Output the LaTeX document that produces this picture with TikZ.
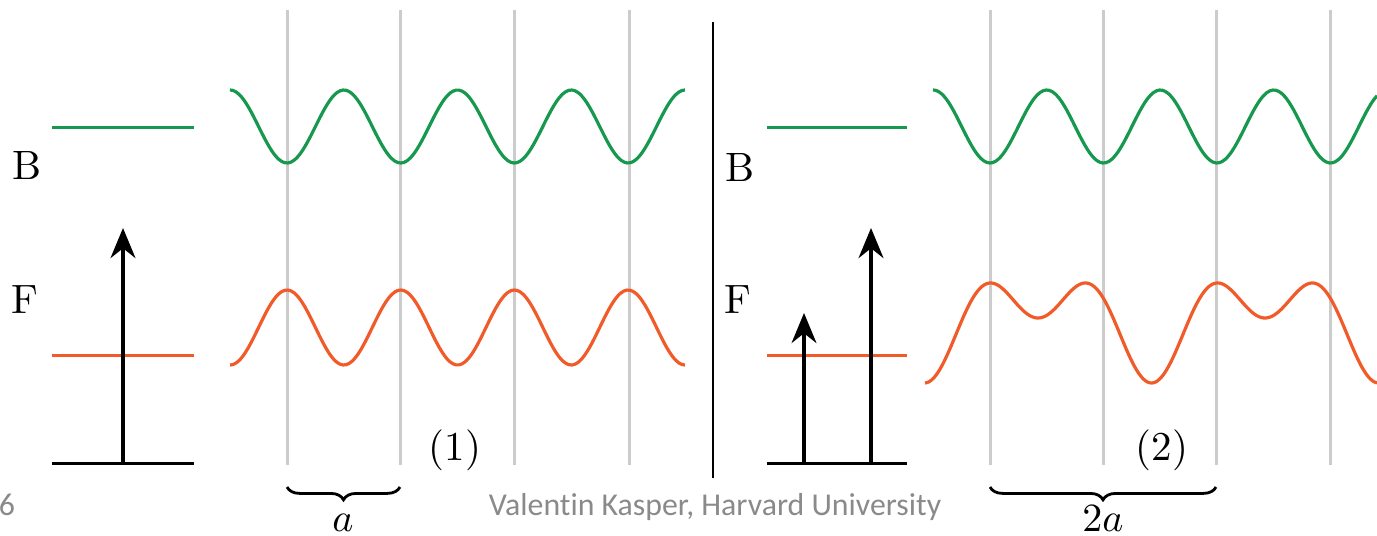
\documentclass[tikz,border=0pt]{standalone}
\usepackage{fontspec}
\newfontfamily\footfont[Ligatures=NoCommon]{Carlito}
\usepackage{tikz}
\usetikzlibrary{arrows.meta,decorations.pathreplacing}
\definecolor{lvgreen}{HTML}{16994F}
\definecolor{lvorange}{HTML}{F15A29}
\definecolor{lvgrid}{HTML}{CCCCCC}
\definecolor{lvfoot}{HTML}{8A8A8A}

\begin{document}
\begin{tikzpicture}[x=0.25pt,y=-0.25pt,
  lvl/.style={line width=0.75pt},
  wave/.style={line width=0.8pt,smooth},
  gridline/.style={lvgrid,line width=0.75pt},
  arr/.style={-{Stealth[length=7.5pt,width=6.2pt]},line width=1pt},
  lab/.style={font=\fontsize{10.25}{12}\selectfont,inner sep=0pt},
  brc/.style={decorate,decoration={brace,mirror,amplitude=3.2pt},line width=0.7pt},
  foot/.style={font=\footfont\fontsize{7.95}{10}\selectfont,text=lvfoot,inner sep=0pt}]
  \useasboundingbox (0,0) rectangle (1377,535);

  % lattice sites
  \foreach \gx in {287,400,514,629,990,1103,1216,1330}
    \draw[gridline] (\gx,10) -- (\gx,465);
  \draw[line width=0.5pt] (713,22) -- (713,478);

  % (1) single frequency
  \draw[lvl,lvgreen] (52,127) -- (194,127);
  \draw[lvl,lvorange] (52,355) -- (194,355);
  \draw[lvl] (52,463) -- (194,463);
  \coordinate (base1) at (123,463);
  \coordinate (top1) at (123,228);
  \draw[arr] (base1) -- (top1);
  \node[lab] (b1) at (27,165) {B};
  \node[lab] (f1) at (25,300) {F};
  \draw[wave,lvgreen,domain=230:685,samples=150]
    plot (\x,{126.5+36.5*cos((\x-287)/113.7*360)});
  \draw[wave,lvorange,domain=230:685,samples=150]
    plot (\x,{327.5-37.5*cos((\x-287)/113.7*360)});
  \node[lab] (n1) at (455,450) {(1)};
  \coordinate (s1) at (287,487);
  \coordinate (e1) at (400,487);
  \draw[brc] (s1) -- (e1);
  \node[lab,anchor=base] (a1) at (343,531) {$a$};

  % (2) two frequencies
  \draw[lvl,lvgreen] (767,127) -- (907,127);
  \draw[lvl,lvorange] (767,355) -- (907,355);
  \draw[lvl] (767,463) -- (907,463);
  \coordinate (base2) at (804,463);
  \coordinate (top2) at (804,313);
  \coordinate (base3) at (871,463);
  \coordinate (top3) at (871,228);
  \draw[arr,line width=0.85pt] (base2) -- (top2);
  \draw[arr] (base3) -- (top3);
  \node[lab] (b2) at (740,167) {B};
  \node[lab] (f2) at (738,300) {F};
  \draw[wave,lvgreen,domain=933:1377,samples=150]
    plot (\x,{126.5+36.5*cos((\x-990)/113.5*360)});
  \draw[wave,lvorange,domain=925:1377,samples=200]
    plot (\x,{318.8+31.7*cos((\x-1038)/227*720)-32.5*cos((\x-1038)/227*360)});
  \node[lab] (n2) at (1162,450) {(2)};
  \coordinate (s2) at (990,487);
  \coordinate (e2) at (1216,487);
  \draw[brc] (s2) -- (e2);
  \node[lab,anchor=base] (a2) at (1103,531) {$2a$};

  \node[foot,anchor=base] (pg) at (7,515) {6};
  \node[foot,anchor=base] (cred) at (715,515) {Valentin Kasper, Harvard University};
\end{tikzpicture}
\end{document}
